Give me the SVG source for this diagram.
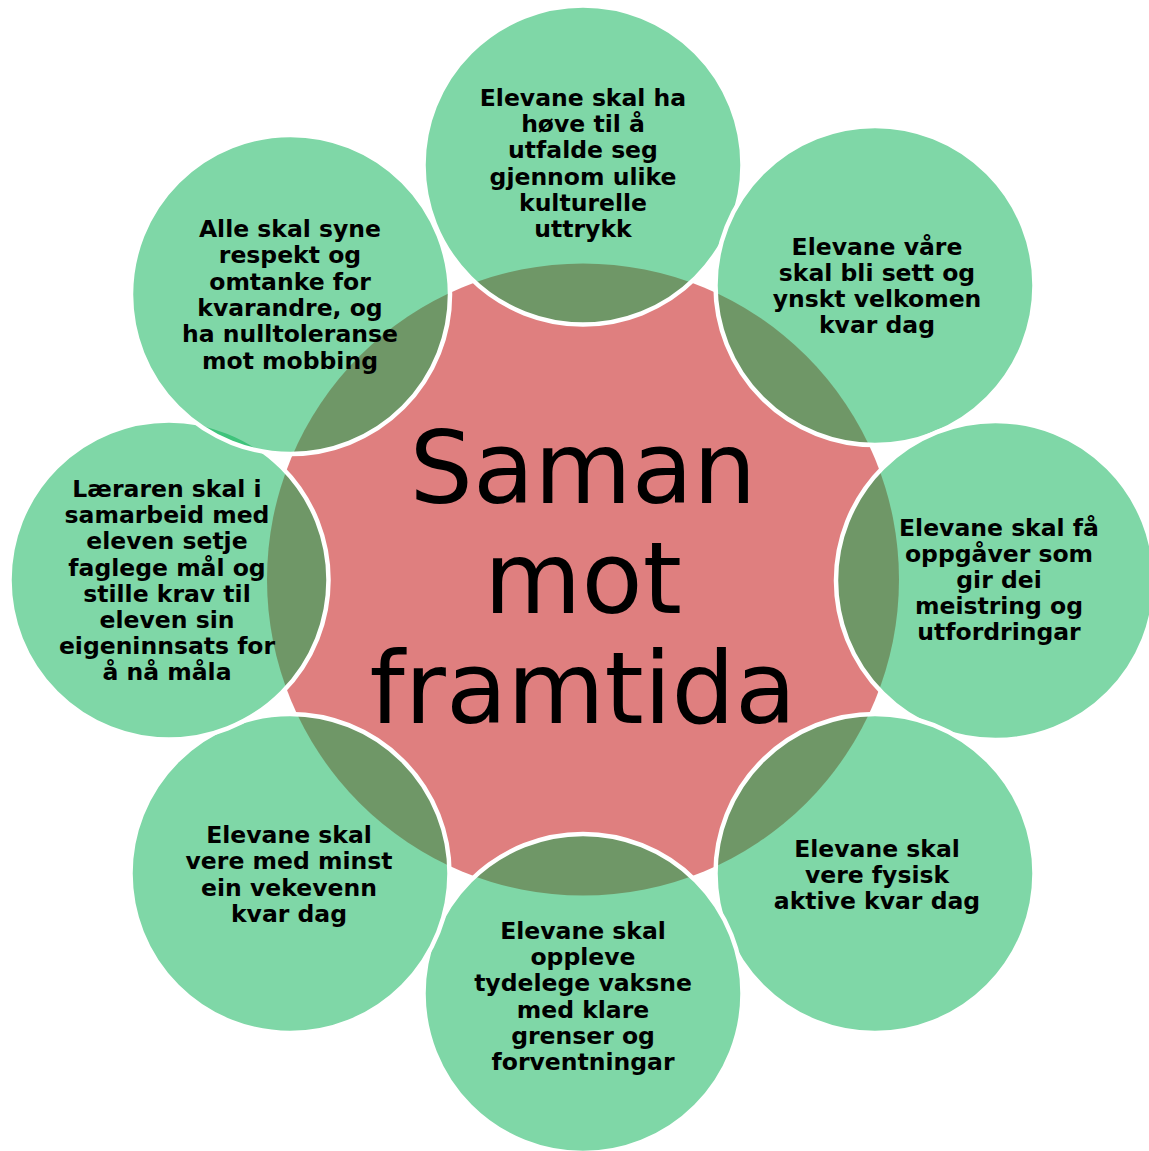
<svg xmlns="http://www.w3.org/2000/svg" width="1149" height="1151" viewBox="0 0 1149 1151">
<style>
.hub{fill:#C00000;fill-opacity:0.5}
.hubtxt{font-family:"DejaVu Sans","Liberation Sans",sans-serif;font-size:100px;fill:#000;text-anchor:middle}
.node{fill:#00B050;fill-opacity:0.5;stroke:#fff;stroke-width:4.5}
.lbl{font-family:"DejaVu Sans","Liberation Sans",sans-serif;font-weight:bold;font-size:23.5px;fill:#000;text-anchor:middle}
</style>
<rect width="1149" height="1151" fill="#fff"/>
<g id="center">
<circle class="hub" cx="583" cy="579.5" r="316"/>
<text class="hubtxt" x="583" y="503">Saman</text>
<text class="hubtxt" x="583" y="613">mot</text>
<text class="hubtxt" x="583" y="723">framtida</text>
</g>
<g id="node-top">
<circle class="node" cx="583" cy="165" r="159.5"/>
<text class="lbl" x="583" y="106">Elevane skal ha</text>
<text class="lbl" x="583" y="132.2">høve til å</text>
<text class="lbl" x="583" y="158.4">utfalde seg</text>
<text class="lbl" x="583" y="184.6">gjennom ulike</text>
<text class="lbl" x="583" y="210.8">kulturelle</text>
<text class="lbl" x="583" y="237">uttrykk</text>
</g>
<g id="node-top-right">
<circle class="node" cx="875" cy="285.5" r="159.5"/>
<text class="lbl" x="877" y="255">Elevane våre</text>
<text class="lbl" x="877" y="281">skal bli sett og</text>
<text class="lbl" x="877" y="307">ynskt velkomen</text>
<text class="lbl" x="877" y="333">kvar dag</text>
</g>
<g id="node-right">
<circle class="node" cx="995.5" cy="580.5" r="159.5"/>
<text class="lbl" x="999" y="536">Elevane skal få</text>
<text class="lbl" x="999" y="562">oppgåver som</text>
<text class="lbl" x="999" y="588">gir dei</text>
<text class="lbl" x="999" y="614">meistring og</text>
<text class="lbl" x="999" y="640">utfordringar</text>
</g>
<g id="node-bottom-right">
<circle class="node" cx="875" cy="873.5" r="159.5"/>
<text class="lbl" x="877" y="857">Elevane skal</text>
<text class="lbl" x="877" y="883">vere fysisk</text>
<text class="lbl" x="877" y="909">aktive kvar dag</text>
</g>
<g id="node-bottom">
<circle class="node" cx="583" cy="993.5" r="159.5"/>
<text class="lbl" x="583" y="939">Elevane skal</text>
<text class="lbl" x="583" y="965.2">oppleve</text>
<text class="lbl" x="583" y="991.4">tydelege vaksne</text>
<text class="lbl" x="583" y="1017.6">med klare</text>
<text class="lbl" x="583" y="1043.8">grenser og</text>
<text class="lbl" x="583" y="1070">forventningar</text>
</g>
<g id="node-bottom-left">
<circle class="node" cx="290" cy="873.5" r="159.5"/>
<text class="lbl" x="289" y="843">Elevane skal</text>
<text class="lbl" x="289" y="869.3">vere med minst</text>
<text class="lbl" x="289" y="895.6">ein vekevenn</text>
<text class="lbl" x="289" y="922">kvar dag</text>
</g>
<g id="node-left">
<circle class="node" cx="169" cy="580" r="159.5"/>
<text class="lbl" x="167" y="497">Læraren skal i</text>
<text class="lbl" x="167" y="523.2">samarbeid med</text>
<text class="lbl" x="167" y="549.4">eleven setje</text>
<text class="lbl" x="167" y="575.6">faglege mål og</text>
<text class="lbl" x="167" y="601.8">stille krav til</text>
<text class="lbl" x="167" y="628">eleven sin</text>
<text class="lbl" x="167" y="654.2">eigeninnsats for</text>
<text class="lbl" x="167" y="680.4">å nå måla</text>
</g>
<g id="node-top-left">
<circle class="node" cx="290.5" cy="294.5" r="159.5"/>
<text class="lbl" x="290" y="237">Alle skal syne</text>
<text class="lbl" x="290" y="263.3">respekt og</text>
<text class="lbl" x="290" y="289.6">omtanke for</text>
<text class="lbl" x="290" y="315.9">kvarandre, og</text>
<text class="lbl" x="290" y="342.2">ha nulltoleranse</text>
<text class="lbl" x="290" y="368.5">mot mobbing</text>
</g>
</svg>
